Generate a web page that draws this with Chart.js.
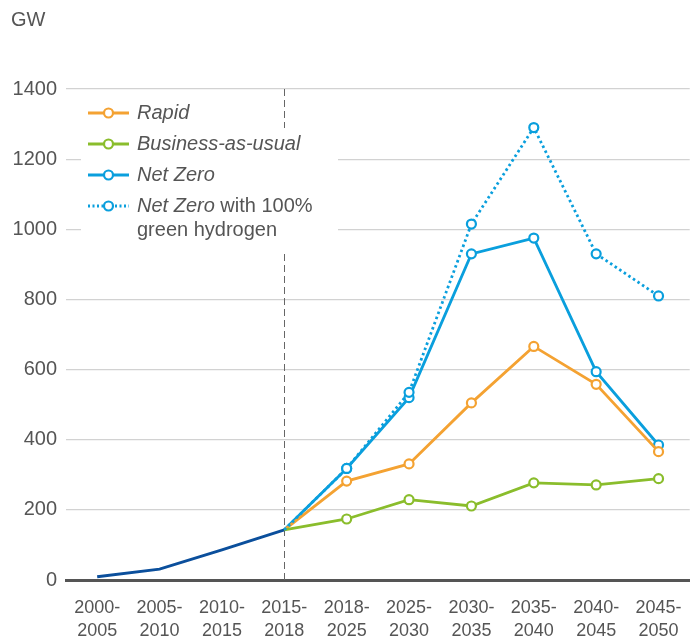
<!DOCTYPE html>
<html>
<head>
<meta charset="utf-8">
<script src="https://cdn.jsdelivr.net/npm/chart.js@4/dist/chart.umd.min.js"></script>
<style>
  html, body { margin: 0; padding: 0; background: #fff; }
  #wrap { width: 699px; height: 640px; }
</style>
</head>
<body>
<div id="wrap"><canvas id="graph" width="699" height="640"></canvas></div>
<script>
const periods = [
  ['2000-', '2005'], ['2005-', '2010'], ['2010-', '2015'], ['2015-', '2018'],
  ['2018-', '2025'], ['2025-', '2030'], ['2030-', '2035'], ['2035-', '2040'],
  ['2040-', '2045'], ['2045-', '2050']
];
const historical = [9, 31, 86, 143, null, null, null, null, null, null];
const rapid = [null, null, null, 143, 282, 331, 505, 666, 558, 366];
const businessAsUsual = [null, null, null, 143, 174, 229, 211, 277, 271, 289];
const netZero = [null, null, null, 143, 318, 520, 930, 975, 594, 385];
const netZeroGreenH2 = [null, null, null, 143, 318, 535, 1015, 1290, 930, 810];
const yTicks = [0, 200, 400, 600, 800, 1000, 1200, 1400];

const colors = {
  history: '#0b4f9c',
  rapid: '#f4a232',
  bau: '#8abd2c',
  netZero: '#0a9fdd'
};

const FONT = '"Liberation Sans", Arial, sans-serif';
const TEXT = '#555555';
const SPLIT = 3; // index where projections start

function scenario(label, data, color, dash) {
  return {
    label,
    data,
    borderColor: color,
    backgroundColor: '#ffffff',
    borderWidth: 2.8,
    borderDash: dash || [],
    pointBorderWidth: 2.2,
    pointRadius: ctx => (ctx.dataIndex <= SPLIT ? 0 : 4.5),
    pointHoverRadius: 0,
    tension: 0
  };
}

// vertical dashed divider at 2015-2018
const divider = {
  id: 'divider',
  beforeDatasetsDraw(chart) {
    const { ctx, chartArea, scales } = chart;
    const x = Math.round(scales.x.getPixelForValue(SPLIT)) + 0.5;
    ctx.save();
    ctx.strokeStyle = '#666';
    ctx.lineWidth = 1;
    ctx.setLineDash([7, 4]);
    ctx.beginPath();
    ctx.moveTo(x, chartArea.top);
    ctx.lineTo(x, chartArea.bottom);
    ctx.stroke();
    ctx.restore();
  }
};

// unit label and the in-plot legend
const extras = {
  id: 'extras',
  afterDatasetsDraw(chart) {
    const { ctx } = chart;
    ctx.save();
    ctx.fillStyle = TEXT;
    ctx.font = '20px ' + FONT;
    ctx.textBaseline = 'middle';
    ctx.textAlign = 'left';
    ctx.fillText('GW', 11, 20);

    ctx.fillStyle = '#ffffff';
    ctx.fillRect(81, 128, 257, 122);

    const rows = [
      { color: colors.rapid, dash: [], y: 113, parts: [['Rapid', true]] },
      { color: colors.bau, dash: [], y: 144, parts: [['Business-as-usual', true]] },
      { color: colors.netZero, dash: [], y: 175, parts: [['Net Zero', true]] },
      { color: colors.netZero, dash: [2, 2.5], y: 206, parts: [['Net Zero', true], [' with 100%', false]] }
    ];
    rows.forEach(r => {
      ctx.strokeStyle = r.color;
      ctx.lineWidth = 2.8;
      ctx.setLineDash(r.dash);
      ctx.beginPath();
      ctx.moveTo(88, r.y);
      ctx.lineTo(129, r.y);
      ctx.stroke();
      ctx.setLineDash([]);
      ctx.fillStyle = '#fff';
      ctx.lineWidth = 2.2;
      ctx.beginPath();
      ctx.arc(108.5, r.y, 4.5, 0, Math.PI * 2);
      ctx.fill();
      ctx.stroke();

      let x = 137;
      ctx.fillStyle = TEXT;
      r.parts.forEach(([txt, italic]) => {
        ctx.font = (italic ? 'italic ' : '') + '20px ' + FONT;
        ctx.fillText(txt, x, r.y);
        x += ctx.measureText(txt).width;
      });
    });
    ctx.font = '20px ' + FONT;
    ctx.fillText('green hydrogen', 137, 230);
    ctx.restore();
  }
};

const ctx = document.getElementById('graph').getContext('2d');

new Chart(ctx, {
  type: 'line',
  data: {
    labels: periods,
    datasets: [
      scenario('Net Zero with 100% green hydrogen', netZeroGreenH2, colors.netZero, [2.5, 3]),
      scenario('Business-as-usual', businessAsUsual, colors.bau),
      scenario('Rapid', rapid, colors.rapid),
      scenario('Net Zero', netZero, colors.netZero),
      {
        label: 'Historical',
        data: historical,
        borderColor: colors.history,
        borderWidth: 3,
        pointRadius: 0,
        tension: 0
      }
    ]
  },
  options: {
    responsive: false,
    animation: false,
    events: [],
    layout: { padding: { top: 89, right: 9, bottom: 0, left: 0 } },
    plugins: {
      legend: { display: false },
      tooltip: { enabled: false }
    },
    scales: {
      x: {
        offset: true,
        grid: { display: false, drawTicks: false },
        border: { display: true, color: '#555', width: 3 },
        ticks: {
          color: TEXT,
          font: { family: FONT, size: 18, lineHeight: 1.25 },
          padding: 17,
          maxRotation: 0,
          autoSkip: false
        },
        afterFit(scale) { scale.height = 60; }
      },
      y: {
        min: 0,
        max: 1400,
        afterBuildTicks(scale) { scale.ticks = yTicks.map(v => ({ value: v })); },
        grid: {
          drawTicks: false,
          color: c => (c.tick && c.tick.value === 0 ? 'rgba(0,0,0,0)' : '#d2d2d2'),
          lineWidth: 1.2
        },
        border: { display: false },
        ticks: {
          color: TEXT,
          font: { family: FONT, size: 20 },
          padding: 9,
          callback: v => String(v)
        },
        afterFit(scale) { scale.width = 66; }
      }
    }
  },
  plugins: [divider, extras]
});
</script>
</body>
</html>
